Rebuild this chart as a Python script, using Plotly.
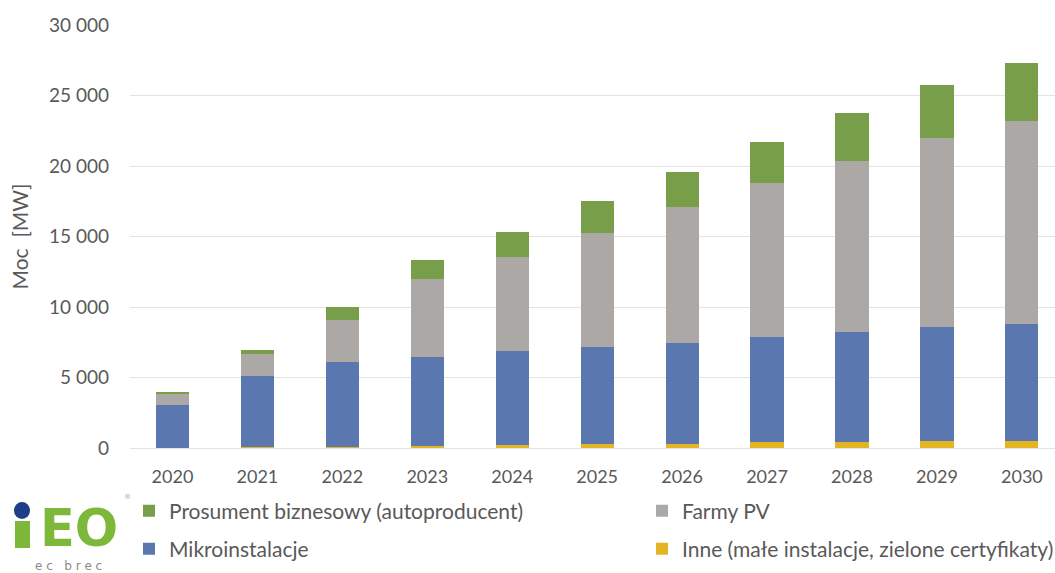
import plotly.graph_objects as go

years = ["2020", "2021", "2022", "2023", "2024", "2025", "2026", "2027", "2028", "2029", "2030"]
inne = [30, 40, 60, 150, 180, 250, 300, 400, 420, 500, 520]
mikroinstalacje = [3020, 5060, 6060, 6280, 6700, 6930, 7170, 7450, 7780, 8100, 8270]
farmy_pv = [830, 1570, 2960, 5530, 6640, 8090, 9640, 10920, 12180, 13360, 14420]
prosument = [40, 280, 900, 1370, 1820, 2270, 2440, 2950, 3400, 3780, 4070]
y_ticks = [0, 5000, 10000, 15000, 20000, 25000, 30000]

names = {
    "prosument": "Prosument biznesowy (autoproducent)",
    "farmy": "Farmy PV",
    "mikro": "Mikroinstalacje",
    "inne": "Inne (małe instalacje, zielone certyfikaty)",
}

TXT = "#595959"
FONT = "Lato"
W, H = 1055, 573
ML, MT, MB = 130, 25, 125
PW, PH = W - ML, H - MT - MB

fig = go.Figure()
series = [
    (inne, names["inne"], "#E3B523", "legend4"),
    (mikroinstalacje, names["mikro"], "#5A77B0", "legend3"),
    (farmy_pv, names["farmy"], "#ABA8A5", "legend2"),
    (prosument, names["prosument"], "#789E4A", "legend5"),
]
for vals, nm, col, lg in series:
    fig.add_trace(go.Bar(x=years, y=vals, name=nm, marker=dict(color=col, line=dict(width=0)),
                         legend=lg, showlegend=True))

def leg(xpx, ypx):
    return dict(x=xpx / W, y=1 - ypx / H, xref="container", yref="container",
                xanchor="left", yanchor="middle", orientation="h",
                font=dict(family=FONT, size=21, color=TXT), bgcolor="rgba(0,0,0,0)",
                itemclick=False, itemdoubleclick=False)

fig.update_layout(
    width=W, height=H,
    margin=dict(l=ML, r=0, t=MT, b=MB, autoexpand=False),
    paper_bgcolor="white", plot_bgcolor="white",
    barmode="stack", bargap=0.61,
    separators=", ",
    font=dict(family=FONT, size=19, color=TXT),
    showlegend=True,
    legend5=leg(129, 511),
    legend2=leg(642, 511),
    legend3=leg(129, 549),
    legend4=leg(642, 549),
    xaxis=dict(range=[-0.5, 10.39], showgrid=False, showline=False, ticks="",
               automargin=False, ticklabelstandoff=16,
               tickfont=dict(family=FONT, size=18, color=TXT)),
    yaxis=dict(range=[0, 30000], tickvals=y_ticks, tickformat=",d",
               showgrid=True, gridcolor="#E4E4E4", gridwidth=1,
               zeroline=True, zerolinecolor="#E4E4E4", zerolinewidth=1,
               showline=False, ticks="", ticklabelstandoff=20, automargin=False,
               tickfont=dict(family=FONT, size=19, color=TXT),
               title=dict(text="Moc  [MW]", standoff=14, font=dict(family=FONT, size=21, color=TXT))),
)

def px(x):
    return (x - ML) / PW
def py(y):
    return (H - MB - y) / PH

# IEO logo
fig.add_shape(type="rect", xref="paper", yref="paper", layer="above",
              x0=px(15), x1=px(30), y0=py(548), y1=py(521),
              fillcolor="#7DB83A", line=dict(width=0))
fig.add_shape(type="circle", xref="paper", yref="paper", layer="above",
              x0=px(14), x1=px(30), y0=py(519), y1=py(502),
              fillcolor="#1C3F87", line=dict(width=0))
fig.add_annotation(text="<b>EO</b>", xref="paper", yref="paper",
                   x=px(79), y=py(528),
                   xanchor="center", yanchor="middle", showarrow=False,
                   font=dict(family="DejaVu Sans", size=51, color="#7DB83A"))
fig.add_annotation(text="®", xref="paper", yref="paper",
                   x=px(127), y=py(497),
                   xanchor="center", yanchor="middle", showarrow=False,
                   font=dict(family="DejaVu Sans", size=7, color="#AAAAAA"))
fig.add_annotation(text="e c   b r e c", xref="paper", yref="paper",
                   x=px(68), y=py(566),
                   xanchor="center", yanchor="middle", showarrow=False,
                   font=dict(family="DejaVu Sans", size=12, color="#8A8A8A"))

fig.write_html("out.html", config={"displayModeBar": False},
               post_script="document.body.style.margin='0px';")
